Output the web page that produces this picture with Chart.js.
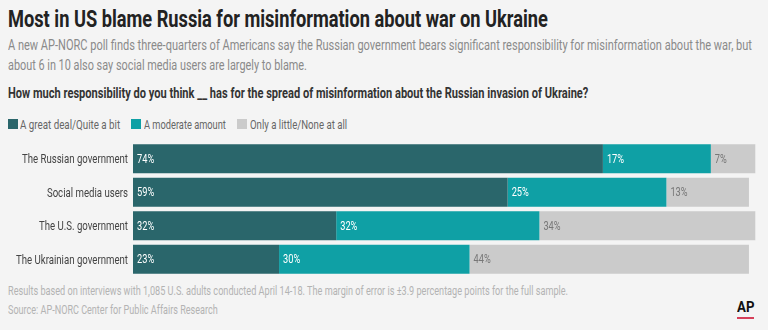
<!DOCTYPE html>
<html>
<head>
<meta charset="utf-8">
<script src="https://cdn.jsdelivr.net/npm/chart.js@4"></script>
<style>
  html, body { margin: 0; padding: 0; }
  body {
    width: 768px; height: 330px; background: #f4f4f4; position: relative; overflow: hidden;
    font-family: Roboto, sans-serif;
  }
  .t { position: absolute; left: 8px; white-space: nowrap; transform-origin: 0 0; }
  #title { top: 7px; font-size: 24px; line-height: 24px; font-weight: bold; color: #222; }
  #sub1 { top: 38px; font-size: 14px; line-height: 14px; color: #8a8a8a; }
  #sub2 { top: 58px; font-size: 14px; line-height: 14px; color: #8a8a8a; }
  #q { top: 86px; font-size: 14px; line-height: 14px; font-weight: bold; color: #333; }
  .lg { position: absolute; top: 118px; font-size: 13px; line-height: 13px; color: #666; white-space: nowrap; transform-origin: 0 0; }
  .sw { position: absolute; top: 119px; width: 10px; height: 10px; }
  #note { top: 284px; font-size: 13px; line-height: 13px; color: #b3b3b3; }
  #src { top: 303px; font-size: 13px; line-height: 13px; color: #b3b3b3; }
  #ap { position: absolute; left: 737px; top: 300px; font-size: 14px; line-height: 14px; font-weight: bold; color: #111; transform-origin: 0 0; }
  #apline { position: absolute; left: 737px; top: 317px; width: 17px; height: 2px; background: #d6405a; }
  #chart { position: absolute; left: 0; top: 142px; }
</style>
</head>
<body>
<div class="t" id="title" data-w="540">Most in US blame Russia for misinformation about war on Ukraine</div>
<div class="t" id="sub1" data-w="744">A new AP-NORC poll finds three-quarters of Americans say the Russian government bears significant responsibility for misinformation about the war, but</div>
<div class="t" id="sub2" data-w="299">about 6 in 10 also say social media users are largely to blame.</div>
<div class="t" id="q" data-w="580">How much responsibility do you think __ has for the spread of misinformation about the Russian invasion of Ukraine?</div>
<div class="t" id="note" data-w="560">Results based on interviews with 1,085 U.S. adults conducted April 14-18. The margin of error is ±3.9 percentage points for the full sample.</div>
<div class="t" id="src" data-w="210">Source: AP-NORC Center for Public Affairs Research</div>
<div id="ap" data-w="17">AP</div>
<div id="apline"></div>
<canvas id="chart" width="768" height="134"></canvas>
<script>
const categories = ["The Russian government", "Social media users", "The U.S. government", "The Ukrainian government"];
const seriesNames = ["A great deal/Quite a bit", "A moderate amount", "Only a little/None at all"];
const greatDeal = [74, 59, 32, 23];
const moderate = [17, 25, 32, 30];
const little = [7, 13, 34, 44];
const colors = ["#2a666b", "#0fa0a5", "#cbcbcb"];
const labelColors = ["#ffffff", "#ffffff", "#777777"];

// condense text to the narrow look of the original
function fit(el, w) {
  el.style.transform = "scaleX(" + (w / el.scrollWidth) + ")";
}
document.querySelectorAll("[data-w]").forEach(el => fit(el, +el.dataset.w));

// legend
const legendX = [[8, 20, 100], [131, 144, 82], [237, 250, 97]];
seriesNames.forEach((name, i) => {
  const sw = document.createElement("div");
  sw.className = "sw";
  sw.style.left = legendX[i][0] + "px";
  sw.style.background = colors[i];
  document.body.appendChild(sw);
  const tx = document.createElement("div");
  tx.className = "lg";
  tx.style.left = legendX[i][1] + "px";
  tx.textContent = name;
  document.body.appendChild(tx);
  fit(tx, legendX[i][2]);
});

const tickFont = "13px Roboto, sans-serif";
const valFont = "12.5px Roboto, sans-serif";
const measure = document.createElement("canvas").getContext("2d");
measure.font = tickFont;
const squeeze = 112 / measure.measureText("The Ukrainian government").width;

const textLayer = {
  id: "textLayer",
  afterDatasetsDraw(chart) {
    const ctx = chart.ctx;
    const y = chart.scales.y;
    ctx.save();
    ctx.textBaseline = "middle";
    // category labels
    ctx.font = tickFont;
    ctx.fillStyle = "#444";
    ctx.textAlign = "right";
    categories.forEach((c, i) => {
      ctx.save();
      ctx.translate(y.right - 5, y.getPixelForTick(i) + 1);
      ctx.scale(squeeze, 1);
      ctx.fillText(c, 0, 0);
      ctx.restore();
    });
    // value labels
    ctx.font = valFont;
    ctx.textAlign = "left";
    chart.data.datasets.forEach((ds, di) => {
      const meta = chart.getDatasetMeta(di);
      ctx.fillStyle = labelColors[di];
      meta.data.forEach((bar, i) => {
        ctx.save();
        ctx.translate(bar.base + 4, bar.y + 1);
        ctx.scale(squeeze, 1);
        ctx.fillText(ds.data[i] + "%", 0, 0);
        ctx.restore();
      });
    });
    ctx.restore();
  }
};

new Chart(document.getElementById("chart"), {
  type: "bar",
  data: {
    labels: categories,
    datasets: [greatDeal, moderate, little].map((d, i) => ({
      label: seriesNames[i],
      data: d,
      backgroundColor: colors[i],
      borderWidth: 0,
      barPercentage: 0.86,
      categoryPercentage: 1,
    })),
  },
  options: {
    indexAxis: "y",
    responsive: false,
    animation: false,
    layout: { padding: 0 },
    plugins: { legend: { display: false }, tooltip: { enabled: false } },
    scales: {
      x: { stacked: true, min: 0, max: 100, display: false },
      y: {
        stacked: true,
        grid: { display: false },
        border: { display: false },
        ticks: { display: false },
        afterFit(scale) { scale.width = 133; },
      },
    },
  },
  plugins: [textLayer],
});
</script>
</body>
</html>
